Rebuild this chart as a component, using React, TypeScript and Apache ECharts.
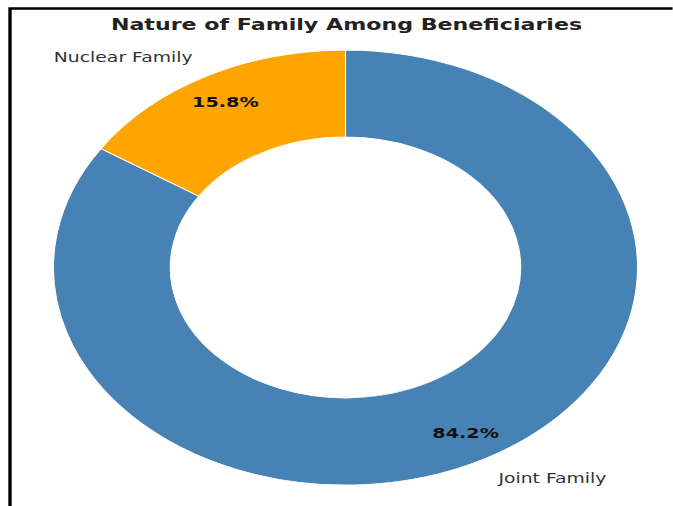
import React, { useEffect, useRef } from "react";
import * as echarts from "echarts";

const categories = ["Joint Family", "Nuclear Family"];
const values = [84.2, 15.8];
const titleText = "Nature of Family Among Beneficiaries";

const palette = ["#4682B4", "#FFA500"];

const W = 673;
const H = 506;
const SX = 1.3425; // horizontal stretch of the reference picture
const W0 = W / SX;

export default function App() {
  const ref = useRef<HTMLDivElement>(null);
  useEffect(() => {
    if (!ref.current) return;
    const chart = echarts.init(ref.current, undefined, { renderer: "svg" });
    const R = 217.5;
    const cx = 345.5 / SX;
    const cy = 267.5;
    const font = "DejaVu Sans";
    const pieData = categories.map((name, i) => ({
      name,
      value: values[i],
      itemStyle: { color: palette[i] },
    }));
    chart.setOption({
      animation: false,
      backgroundColor: "#fff",
      title: {
        text: titleText,
        left: 346.5 / SX,
        top: 16,
        textAlign: "center",
        padding: 0,
        textStyle: { fontFamily: font, fontWeight: "bold", fontSize: 16.5, color: "#222" },
      },
      graphic: [
        {
          type: "rect",
          shape: { x: 10 / SX, y: 8.5, width: 700, height: 700 },
          style: { fill: "none", stroke: "#000", lineWidth: 2.5 },
          silent: true,
        },
      ],
      series: [
        {
          type: "pie",
          center: [cx, cy],
          radius: [0.6 * R, R],
          startAngle: 90,
          clockwise: true,
          avoidLabelOverlap: false,
          data: pieData,
          itemStyle: { borderColor: "#fff", borderWidth: 0.8 },
          label: {
            show: true,
            position: "outside",
            formatter: "{b}",
            fontFamily: font,
            fontSize: 14,
            color: "#333",
            distanceToLabelLine: 0,
          },
          labelLine: { show: false, length: 0.1 * R, length2: 0 },
          emphasis: { disabled: true },
        },
        {
          type: "pie",
          center: [cx, cy],
          radius: [0.7 * R, R],
          startAngle: 90,
          clockwise: true,
          silent: true,
          avoidLabelOverlap: false,
          data: categories.map((name, i) => ({ name, value: values[i] })),
          itemStyle: { color: "rgba(0,0,0,0)" },
          label: {
            show: true,
            position: "inside",
            formatter: (p: any) => p.percent.toFixed(1) + "%",
            fontFamily: font,
            fontWeight: "bold",
            fontSize: 14.3,
            color: "#111",
          },
          labelLine: { show: false },
          emphasis: { disabled: true },
        },
      ],
    });
    return () => chart.dispose();
  }, []);
  return (
    <div style={{ position: "absolute", left: 0, top: 0, width: W, height: H, overflow: "hidden", background: "#fff" }}>
      <div
        ref={ref}
        style={{ width: W0, height: H, transform: `scaleX(${SX})`, transformOrigin: "0 0" }}
      />
    </div>
  );
}
